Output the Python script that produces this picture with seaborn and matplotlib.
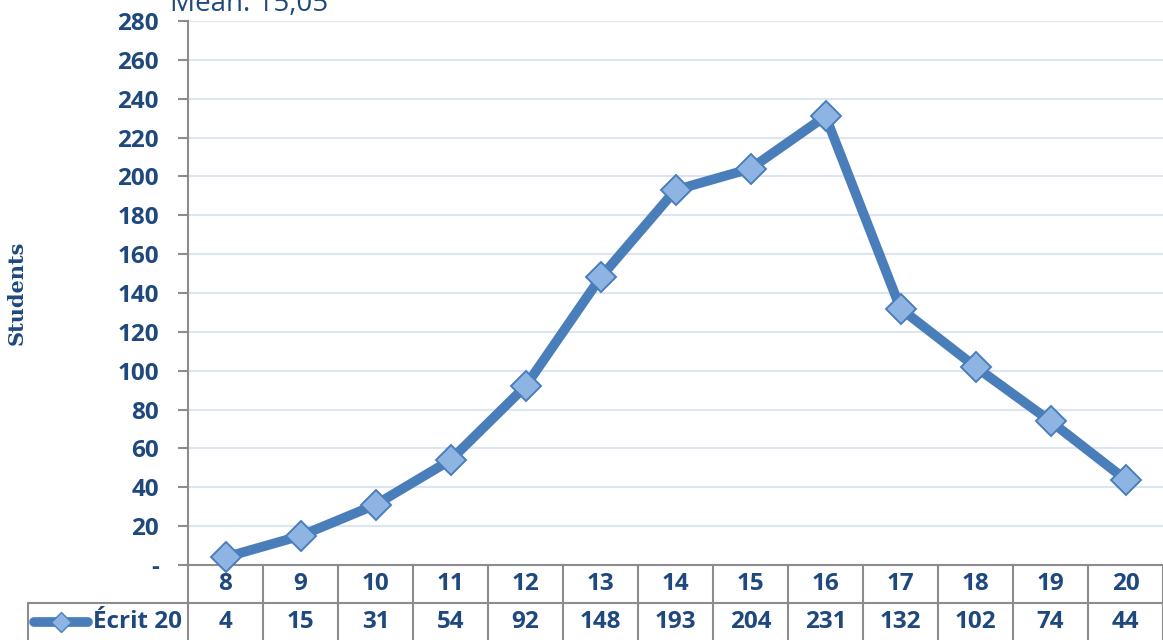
import seaborn as sns
import matplotlib.pyplot as plt
import pandas as pd

grades = ["8", "9", "10", "11", "12", "13", "14", "15", "16", "17", "18", "19", "20"]
students = [4, 15, 31, 54, 92, 148, 193, 204, 231, 132, 102, 74, 44]
series_name = "Écrit 20"
title = "Mean: 15,05"
y_ticks = list(range(0, 281, 20))
y_tick_labels = ["-"] + [str(v) for v in y_ticks[1:]]

df = pd.DataFrame({"pos": range(len(grades)), "grade": grades, "Students": students})

sns.set_style("white")
plt.rcParams["font.family"] = ["Open Sans", "DejaVu Sans"]

navy = "#1F497D"
line_col = "#4A7EBB"
face_col = "#8DB4E3"
grey = "#8C8C8C"
fs = 17.5
fw = "bold"

fig = plt.figure(figsize=(11.63, 6.40), dpi=100)
ax = fig.add_axes([188 / 1163, 75 / 640, 1 - 188 / 1163, 544 / 640])

sns.lineplot(data=df, x="pos", y="Students", ax=ax, color=line_col, linewidth=7,
             marker="D", markersize=15, markerfacecolor=face_col,
             markeredgecolor=line_col, markeredgewidth=1.4, clip_on=False, zorder=5)

ax.set_xlim(-0.5, len(grades) - 0.5)
ax.set_ylim(0, 280)
ax.set_yticks(y_ticks)
ax.set_yticklabels(y_tick_labels, fontsize=fs, fontweight=fw, color=navy)
ax.set_xticks([])
ax.set_xlabel("")
ax.set_ylabel("Students", fontsize=15, fontweight="bold", color=navy,
              family="DejaVu Serif", labelpad=0)
ax.yaxis.set_label_coords((27 - 188) / 975, 0.5)
ax.grid(axis="y", color="#DCE6F2", linewidth=1.5)
ax.tick_params(axis="y", length=7, width=1.5, color=grey, pad=14, left=True)
for side in ["top", "right"]:
    ax.spines[side].set_visible(False)
ax.spines["left"].set_color(grey)
ax.spines["left"].set_linewidth(1.5)
ax.spines["bottom"].set_color(grey)
ax.spines["bottom"].set_linewidth(1.5)

# data table below the axis
tr = ax.get_xaxis_transform()
h = 38 / 544
n = len(grades)
for i in range(n + 1):
    ax.plot([i - 0.5, i - 0.5], [0, -2 * h], transform=tr, color=grey, lw=1.5, clip_on=False)
left = -0.5 - 160 / 75
ax.plot([left, n - 0.5], [-h, -h], transform=tr, color=grey, lw=1.5, clip_on=False)
ax.plot([left, left], [-h, -2 * h], transform=tr, color=grey, lw=1.5, clip_on=False)
for i, (g, v) in enumerate(zip(grades, students)):
    ax.text(i, -h / 2, g, transform=tr, ha="center", va="center", fontsize=fs,
            fontweight=fw, color=navy, clip_on=False)
    ax.text(i, -1.5 * h, str(v), transform=tr, ha="center", va="center", fontsize=fs,
            fontweight=fw, color=navy, clip_on=False)

# legend key in the row header
kx0 = left + 6 / 75
kx1 = left + 60 / 75
ax.plot([kx0, kx1], [-1.5 * h, -1.5 * h], transform=tr, color=line_col, lw=7,
        solid_capstyle="round", clip_on=False)
ax.plot([(kx0 + kx1) / 2], [-1.5 * h], transform=tr, marker="D", markersize=10,
        markerfacecolor=face_col, markeredgecolor=line_col, clip_on=False)
ax.text(-0.5 - 6 / 75, -1.5 * h, series_name, transform=tr, ha="right", va="center",
        fontsize=fs, fontweight=fw, color=navy, clip_on=False)

fig.text(170 / 1163, 1 - 11 / 640, title, fontsize=20, color=navy, ha="left", va="baseline")

fig.savefig("out.png", dpi=100)
